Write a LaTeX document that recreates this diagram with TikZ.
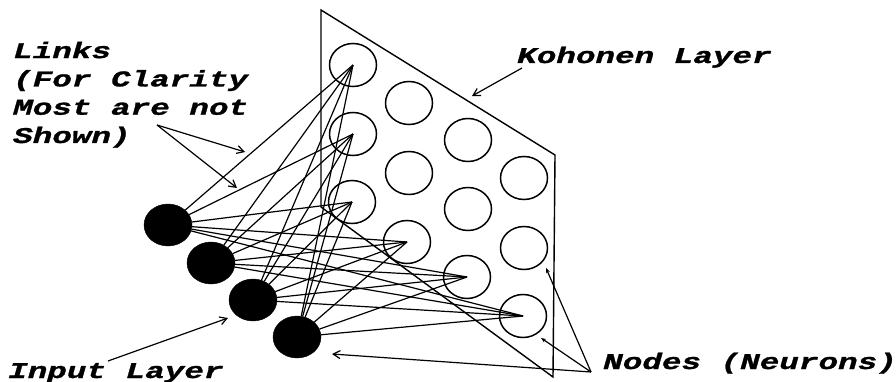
\documentclass[tikz,border=0pt]{standalone}
\usepackage{fontspec}
\newfontfamily\labelfont[FakeStretch=1.45,BoldItalicFeatures={FakeBold=1.2}]{Liberation Mono}
\usetikzlibrary{shapes.geometric,arrows.meta}
\begin{document}
\begin{tikzpicture}[x=1pt,y=-1pt,
  lab/.style={font=\labelfont\bfseries\itshape\fontsize{22.5}{28.3}\selectfont, inner sep=0pt, anchor=base west, align=left},
  kcell/.style={ellipse, draw, line width=1.5pt, minimum width=47pt, minimum height=43pt, inner sep=0pt},
  incell/.style={ellipse, fill=black, draw=black, minimum width=48pt, minimum height=42pt, inner sep=0pt},
  link/.style={line width=1.2pt},
  panel/.style={line width=1.4pt, line join=miter},
  callout/.style={line width=1.2pt, -{Straight Barb[length=7pt,width=8pt]}},
  smallcallout/.style={line width=1.2pt, -{Stealth[length=5pt,width=4pt]}},
]
\useasboundingbox (0,0) rectangle (896,382);

% Kohonen layer plane
\coordinate (p1) at (321,10);
\coordinate (p2) at (555,155);
\coordinate (p3) at (553,377);
\coordinate (p4) at (321,207);
\draw[panel] (p1) -- (p2) -- (p3) -- (p4) -- cycle;

% Kohonen nodes
\node[kcell] (k11) at (353,65) {};
\node[kcell] (k12) at (353,134) {};
\node[kcell] (k13) at (352,202) {};
\node[kcell] (k21) at (409,103) {};
\node[kcell] (k22) at (409,173) {};
\node[kcell] (k23) at (407,242) {};
\node[kcell] (k31) at (468,140) {};
\node[kcell] (k32) at (468,209) {};
\node[kcell] (k33) at (467,277) {};
\node[kcell] (k41) at (524,178) {};
\node[kcell] (k42) at (524,248) {};
\node[kcell] (k43) at (523,316) {};

% Input nodes
\node[incell] (in1) at (168,225) {};
\node[incell] (in2) at (211,263) {};
\node[incell] (in3) at (253,300) {};
\node[incell] (in4) at (297,337) {};

% Links
\foreach \i in {1,...,4}
  \foreach \t in {k11,k12,k13,k23,k33,k43}
    \draw[link] (in\i) -- (\t.center);

% Labels
\node[lab] (links) at (13,143) {Links\\(For Clarity\\Most are not\\Shown)};
\node[lab] (koh) at (517,63) {Kohonen Layer};
\node[lab] (inlab) at (8,378) {Input Layer};
\node[lab] (nodlab) at (603,369) {Nodes (Neurons)};

% Callout arrows
\coordinate (lsrc) at (157,125);
\coordinate (ltipa) at (245,152);
\coordinate (ltipb) at (237,188);
\draw[callout] (lsrc) -- (ltipa);
\draw[callout] (lsrc) -- (ltipb);

\coordinate (ksrc) at (522,68);
\coordinate (ktip) at (472,96);
\draw[callout] (ksrc) -- (ktip);

\coordinate (isrc) at (108,361);
\coordinate (itip) at (228,318);
\draw[callout] (isrc) -- (itip);

\coordinate (nsrc) at (591,372);
\coordinate (ntipa) at (546,268);
\coordinate (ntipb) at (541,338);
\coordinate (ntipc) at (332,354);
\draw[smallcallout] (nsrc) -- (ntipa);
\draw[smallcallout] (nsrc) -- (ntipb);
\draw[callout] (nsrc) -- (ntipc);
\end{tikzpicture}
\end{document}
